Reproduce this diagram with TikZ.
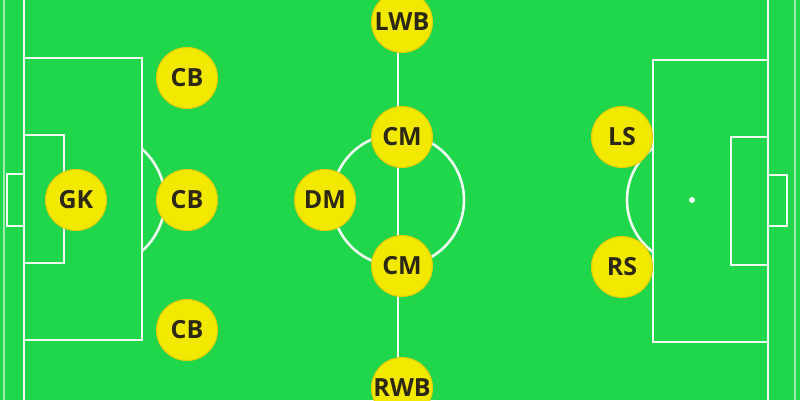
\documentclass[tikz,border=0pt]{standalone}
\usepackage{fontspec}
\setmainfont{Open Sans}
\definecolor{pitch}{RGB}{32,214,74}
\definecolor{plyellow}{RGB}{242,232,0}
\definecolor{plrim}{RGB}{225,205,10}
\definecolor{pltext}{RGB}{45,40,20}
\definecolor{chalk}{RGB}{240,252,240}
\tikzset{
  chalkline/.style={draw=chalk, line width=2.6pt},
  player/.style={circle, fill=plyellow, draw=plrim, line width=1pt, minimum size=61pt, inner sep=0pt,
    text=pltext, font=\fontsize{25}{27}\selectfont\bfseries},
}
\begin{document}
\begin{tikzpicture}[x=1pt,y=-1pt]
\useasboundingbox (0,0) rectangle (800,400);
\clip (0,0) rectangle (800,400);
\fill[pitch] (0,0) rectangle (800,400);
% outer lines
\draw[chalkline, line width=1.5pt, draw=chalk!60!pitch] (4,0) -- (4,400);
\draw[chalkline, line width=1.5pt, draw=chalk!60!pitch] (795,0) -- (795,400);
% goal lines
\draw[chalkline] (24,0) -- (24,400);
\draw[chalkline] (768,0) -- (768,400);
% left side
\draw[chalkline] (24,58) rectangle (142,340);
\draw[chalkline] (24,135) rectangle (64,263);
\draw[chalkline] (7,174) rectangle (24,226);
\begin{scope}
\clip (142,0) rectangle (300,400);
\draw[chalkline] (97,200) circle (68);
\end{scope}
% right side
\draw[chalkline] (653,60) rectangle (768,342);
\draw[chalkline] (731,137) rectangle (768,265);
\draw[chalkline] (768,175) rectangle (787,226);
\begin{scope}
\clip (500,0) rectangle (653,400);
\draw[chalkline] (692,200) circle (65);
\end{scope}
\fill[chalk] (692,200) circle (3);
% halfway line and centre circle
\draw[chalkline] (398,0) -- (398,400);
\draw[chalkline] (398,200) circle (66);
% players
\node[player] (gk) at (76,200) {GK};
\node[player] (cb1) at (187,78) {CB};
\node[player] (cb2) at (187,200) {CB};
\node[player] (cb3) at (187,330) {CB};
\node[player] (dm) at (325,200) {DM};
\node[player] (cm1) at (402,137) {CM};
\node[player] (cm2) at (402,266) {CM};
\node[player] (lwb) at (402,22) {LWB};
\node[player] (rwb) at (402,388) {RWB};
\node[player] (ls) at (622,137) {LS};
\node[player] (rs) at (622,267) {RS};
\end{tikzpicture}
\end{document}
